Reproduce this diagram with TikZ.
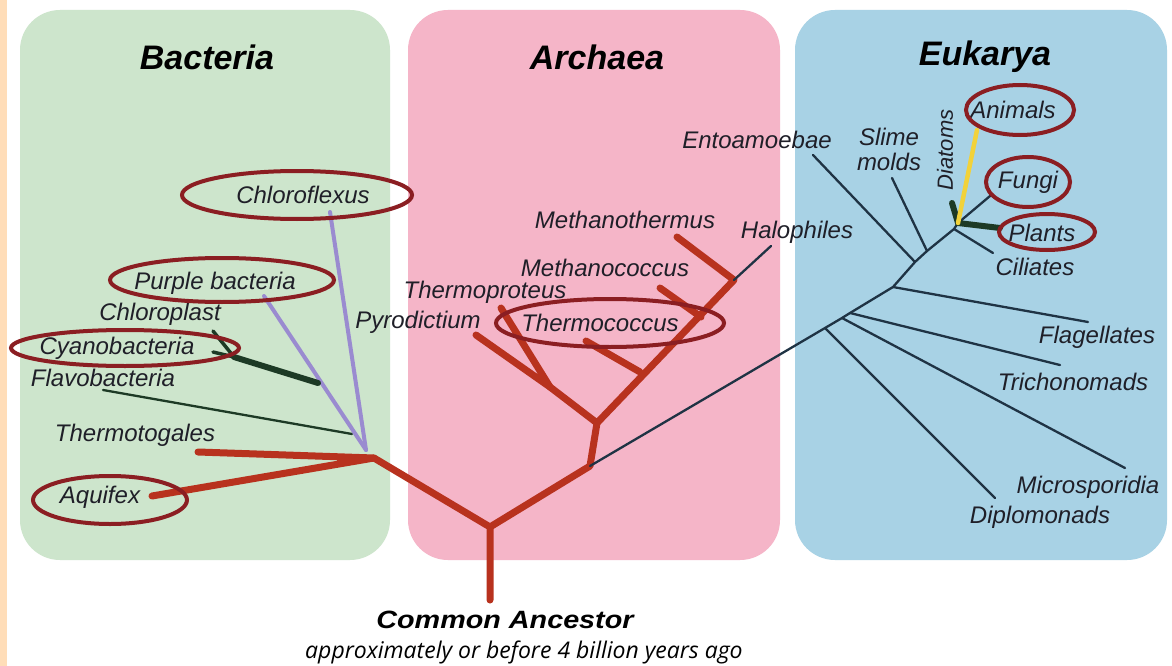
\documentclass[tikz,border=0pt]{standalone}
\usepackage{fontspec}
\setmainfont{Liberation Sans}
\newfontfamily\subfont{Open Sans}
\newfontfamily\widefont[FakeStretch=1.15]{Liberation Sans}
\definecolor{peach}{HTML}{FFDDB8}
\definecolor{bgreen}{HTML}{CDE5CC}
\definecolor{apink}{HTML}{F5B5C8}
\definecolor{eblue}{HTML}{A8D2E5}
\definecolor{treered}{HTML}{B8321E}
\definecolor{purp}{HTML}{9A8BD0}
\definecolor{dkgreen}{HTML}{1D3A25}
\definecolor{eline}{HTML}{1F3344}
\definecolor{ring}{HTML}{8B1E22}
\definecolor{txt}{HTML}{1F1F28}
\definecolor{yel}{HTML}{F2D23A}
\begin{document}
\begin{tikzpicture}[x=1pt,y=-1pt,
  panel/.style={rounded corners=40pt},
  title/.style={font=\bfseries\itshape\fontsize{34}{36}\selectfont, text=black},
  lab/.style={font=\itshape\fontsize{24}{26}\selectfont, text=txt, inner sep=0pt},
  redbr/.style={draw=treered, line width=7pt, line cap=round, line join=round},
  purpbr/.style={draw=purp, line width=4pt, line cap=round},
  thinbr/.style={draw=eline, line width=2.3pt, line cap=round},
  greenbr/.style={draw=dkgreen, line width=6pt, line cap=round},
  ringst/.style={draw=ring, line width=4pt}]
\useasboundingbox (0,0) rectangle (1172,666);
\fill[white] (0,0) rectangle (1172,666);
\fill[peach] (0,0) rectangle (7,666);
% panels
\fill[bgreen,panel] (20,10) rectangle (390,560);
\fill[apink,panel] (408,10) rectangle (780,560);
\fill[eblue,panel] (795,10) rectangle (1167,560);
\node[title] (tB) at (207,57) {Bacteria};
\node[title] (tA) at (597,57) {Archaea};
\node[title] (tE) at (985,57) {Eukarya};
% tree coordinates
\coordinate (root) at (490,600);
\coordinate (r0) at (490,527);
\coordinate (bnode) at (374,458);
\coordinate (bpur) at (366,450);
\coordinate (thermotog) at (198,452);
\coordinate (aquif) at (152,496);
\coordinate (chlorof) at (330,212);
\coordinate (purple) at (264,296);
\coordinate (cyj) at (318,383);
\coordinate (cyf) at (234,357);
\coordinate (chlpl) at (213,331);
\coordinate (cyano) at (213,352);
\coordinate (flavo) at (103,390);
\coordinate (flavoj) at (352,434);
\coordinate (abase) at (590,466);
\coordinate (anode) at (597,423);
\coordinate (pnode) at (550,387);
\coordinate (pyro) at (476,335);
\coordinate (thpro) at (501,308);
\coordinate (tcnode) at (640,372);
\coordinate (tcoc) at (586,341);
\coordinate (mcnode) at (701,317);
\coordinate (mcoc) at (660,288);
\coordinate (mtnode) at (734,280);
\coordinate (mtherm) at (677,237);
\coordinate (halo) at (771,246);
\coordinate (eA) at (825,328);
\coordinate (eB) at (842,318);
\coordinate (eC) at (850,313);
\coordinate (eD) at (893,287);
\coordinate (eE) at (915,262);
\coordinate (eF) at (927,251);
\coordinate (eG) at (954,229);
\coordinate (eH) at (958,223);
\coordinate (diplo) at (995,498);
\coordinate (micro) at (1125,468);
\coordinate (tricho) at (1060,365);
\coordinate (flag) at (1088,322);
\coordinate (ento) at (813,155);
\coordinate (slime) at (892,178);
\coordinate (cil) at (993,253);
\coordinate (plants) at (1000,228);
\coordinate (diat) at (952,203);
\coordinate (anim) at (977,130);
\coordinate (fung) at (990,196);
% bacteria branches
\draw[thinbr,draw=dkgreen] (flavo) -- (flavoj);
\draw[purpbr] (bpur) -- (chlorof);
\draw[purpbr] (bpur) -- (purple);
\draw[greenbr] (cyj) -- (cyf);
\draw[greenbr,line width=3.5pt] (cyf) -- (chlpl);
\draw[greenbr,line width=3.5pt] (cyf) -- (cyano);
\draw[redbr] (root) -- (r0) -- (bnode);
\draw[redbr] (thermotog) -- (bnode) -- (aquif);
\draw[redbr] (r0) -- (abase) -- (anode);
% archaea branches
\draw[redbr] (pyro) -- (pnode) -- (thpro);
\draw[redbr] (pnode) -- (anode) -- (mtnode) -- (mtherm);
\draw[redbr] (tcnode) -- (tcoc);
\draw[redbr] (mcnode) -- (mcoc);
\draw[thinbr] (mtnode) -- (halo);
% eukarya branches
\draw[thinbr] (abase) -- (eA) -- (eB) -- (eC) -- (eD) -- (eE) -- (eF) -- (eG) -- (eH);
\draw[thinbr] (eA) -- (diplo);
\draw[thinbr] (eB) -- (micro);
\draw[thinbr] (eC) -- (tricho);
\draw[thinbr] (eD) -- (flag);
\draw[thinbr] (eE) -- (ento);
\draw[thinbr] (eF) -- (slime);
\draw[thinbr] (eG) -- (cil);
\draw[thinbr] (eH) -- (fung);
\draw[greenbr] (eH) -- (plants);
\draw[greenbr] (eH) -- (diat);
\draw[draw=yel, line width=4.5pt, line cap=round] (eH) -- (anim);
% labels
\node[lab] (lChlorof) at (303,195) {Chloroflexus};
\node[lab] (lPurple) at (215,283) {Purple bacteria};
\node[lab] (lChlpl) at (160,314) {Chloroplast};
\node[lab] (lCyano) at (117,348) {Cyanobacteria};
\node[lab] (lFlavo) at (103,378) {Flavobacteria};
\node[lab] (lThermotog) at (135,435) {Thermotogales};
\node[lab] (lAquif) at (100,497) {Aquifex};
\node[lab] (lMtherm) at (625,220) {Methanothermus};
\node[lab] (lMcoc) at (605,268) {Methanococcus};
\node[lab] (lThpro) at (485,292) {Thermoproteus};
\node[lab] (lPyro) at (418,322) {Pyrodictium};
\node[lab] (lTcoc) at (600,323) {Thermococcus};
\node[lab] (lHalo) at (797,232) {Halophiles};
\node[lab] (lEnto) at (757,140) {Entoamoebae};
\node[lab, align=center, font=\itshape\fontsize{24}{25}\selectfont] (lSlime) at (889,149) {Slime\\molds};
\node[lab, rotate=90, font=\itshape\fontsize{22}{23}\selectfont] (lDiat) at (945,150) {Diatoms};
\node[lab] (lAnim) at (1013,110) {Animals};
\node[lab] (lFung) at (1028,182) {Fungi};
\node[lab] (lPlants) at (1042,233) {Plants};
\node[lab] (lCil) at (1035,267) {Ciliates};
\node[lab] (lFlag) at (1097,337) {Flagellates};
\node[lab] (lTricho) at (1073,382) {Trichonomads};
\node[lab] (lMicro) at (1088,487) {Microsporidia};
\node[lab] (lDiplo) at (1040,517) {Diplomonads};
% rings
\draw[ringst] (297,195) ellipse [x radius=115pt, y radius=24pt];
\draw[ringst] (222,280) ellipse [x radius=112pt, y radius=22pt];
\draw[ringst] (125,348) ellipse [x radius=114pt, y radius=18pt];
\draw[ringst] (110,500) ellipse [x radius=77pt, y radius=24pt];
\draw[ringst] (610,323) ellipse [x radius=114pt, y radius=24pt];
\draw[ringst] (1020,110) ellipse [x radius=54pt, y radius=25pt];
\draw[ringst] (1028,182) ellipse [x radius=42pt, y radius=25pt];
\draw[ringst] (1047,232) ellipse [x radius=48pt, y radius=18pt];
% bottom texts
\node[font=\widefont\bfseries\itshape\fontsize{25}{27}\selectfont, text=black] (lCA) at (505,620) {Common Ancestor};
\node[font=\subfont\itshape\fontsize{23}{25}\selectfont, text=black] (lSub) at (524,652) {approximately or before 4 billion years ago};
\end{tikzpicture}
\end{document}
